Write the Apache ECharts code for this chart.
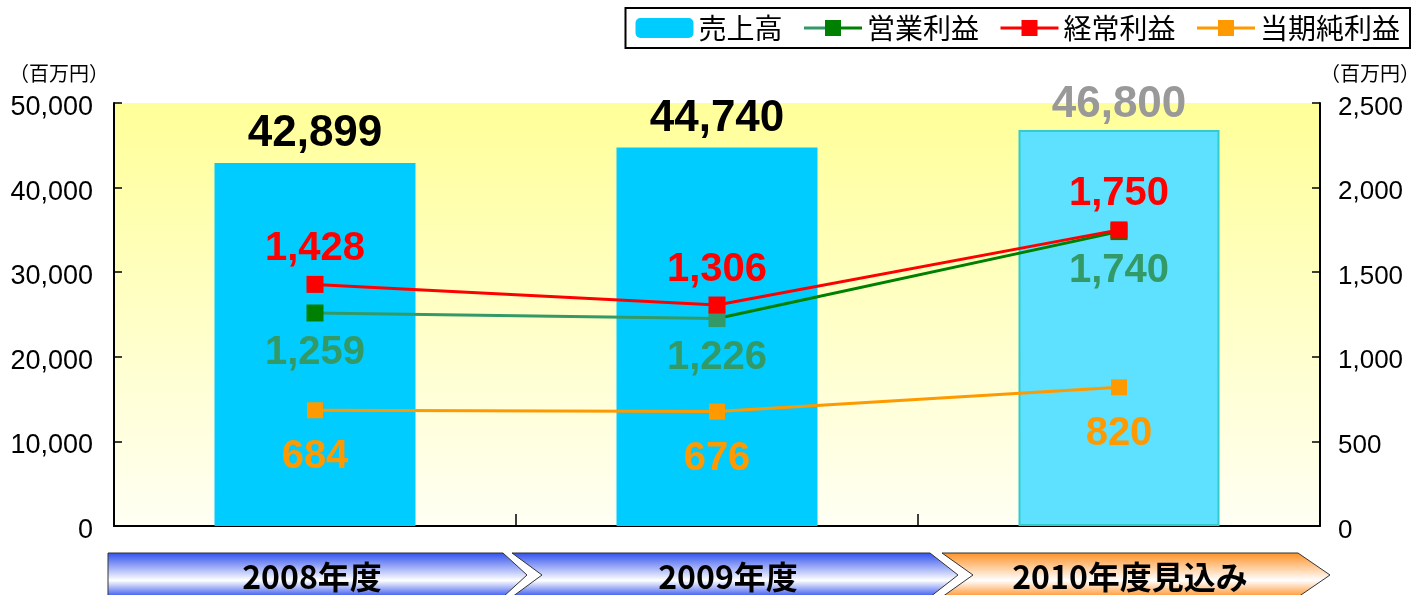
<!DOCTYPE html>
<html>
<head>
<meta charset="utf-8">
<script src="https://cdn.jsdelivr.net/npm/echarts@6/dist/echarts.min.js"></script>
<style>
  html, body { margin: 0; padding: 0; background: #fff; }
  #chart { width: 1416px; height: 595px; }
</style>
</head>
<body>
<div id="chart"></div>
<script>
// Fiscal years and results (million yen)
const categories = ['2008年度', '2009年度', '2010年度見込み'];
const sales = [42899, 44740, 46800];          // 売上高
const operatingProfit = [1259, 1226, 1740];   // 営業利益
const ordinaryProfit = [1428, 1306, 1750];    // 経常利益
const netProfit = [684, 676, 820];            // 当期純利益
const unitLabel = '（百万円）';

const NUM_FONT = "'Liberation Sans', Arial, 'Noto Sans CJK JP', sans-serif";
const JP_FONT = "'Noto Sans CJK JP', 'Liberation Sans', sans-serif";
const fmt = v => Number(v).toLocaleString('en-US');

const GREEN = '#008000';
const GREEN_SOFT = '#339966';

const chart = echarts.init(document.getElementById('chart'), null, { renderer: 'canvas' });

// value-axis tick labels sit slightly below their ticks
const tickLabel = size => ({
  color: '#000',
  fontFamily: NUM_FONT,
  fontSize: size,
  formatter: v => `{t|${fmt(v)}}`,
  rich: { t: { fontFamily: NUM_FONT, fontSize: size, color: '#000', padding: [9, 0, 0, 0] } }
});

const option = {
  animation: false,
  backgroundColor: '#ffffff',
  textStyle: { fontFamily: NUM_FONT },
  legend: {
    right: 6,
    top: 8,
    orient: 'horizontal',
    backgroundColor: '#ffffff',
    borderColor: '#000000',
    borderWidth: 2,
    padding: [6, 10, 6, 10],
    itemWidth: 58,
    itemHeight: 20,
    itemGap: 20,
    lineStyle: { width: 3 },
    textStyle: { fontFamily: JP_FONT, fontSize: 28, color: '#000000' },
    data: ['売上高', '営業利益', '経常利益', '当期純利益']
  },
  grid: {
    left: 114,
    right: 96,
    top: 103,
    bottom: 69,
    outerBoundsMode: 'none',
    containLabel: false,
    show: true,
    borderWidth: 0,
    backgroundColor: new echarts.graphic.LinearGradient(0, 0, 0, 1, [
      { offset: 0, color: '#ffff99' },
      { offset: 1, color: '#fffff4' }
    ])
  },
  xAxis: {
    type: 'category',
    data: categories,
    boundaryGap: true,
    axisLine: { show: true, lineStyle: { color: '#000', width: 2 } },
    axisTick: { show: true, inside: true, length: 12, lineStyle: { color: '#000', width: 1.5 } },
    axisLabel: {
      interval: 0,
      hideOverlap: false,
      margin: 35,
      color: '#000',
      fontSize: 32,
      fontWeight: 'bold',
      fontFamily: JP_FONT,
      formatter: (v, i) => `{c${i}|${v}}`,
      rich: {
        c0: { fontSize: 32, fontWeight: 'bold', fontFamily: JP_FONT, padding: [0, 6, 0, 0] },
        c1: { fontSize: 32, fontWeight: 'bold', fontFamily: JP_FONT, padding: [0, 0, 0, 22] },
        c2: { fontSize: 32, fontWeight: 'bold', fontFamily: JP_FONT, padding: [0, 0, 0, 22] }
      }
    },
    splitLine: { show: false }
  },
  yAxis: [
    {
      type: 'value',
      min: 0,
      max: 50000,
      interval: 10000,
      name: unitLabel,
      nameLocation: 'end',
      nameGap: 20,
      nameTextStyle: { fontFamily: JP_FONT, fontSize: 20, color: '#000', align: 'right', padding: [0, 5, 0, 0] },
      axisLine: { show: true, lineStyle: { color: '#000', width: 2 } },
      axisTick: { show: true, inside: true, length: 8, lineStyle: { color: '#000', width: 1.5 } },
      axisLabel: Object.assign({ margin: 21 }, tickLabel(27)),
      splitLine: { show: false }
    },
    {
      type: 'value',
      min: 0,
      max: 2500,
      interval: 500,
      position: 'right',
      name: unitLabel,
      nameLocation: 'end',
      nameGap: 20,
      nameTextStyle: { fontFamily: JP_FONT, fontSize: 20, color: '#000', align: 'left', padding: [0, 0, 0, 0] },
      axisLine: { show: true, lineStyle: { color: '#000', width: 2 } },
      axisTick: { show: true, inside: true, length: 8, lineStyle: { color: '#000', width: 1.5 } },
      axisLabel: Object.assign({ margin: 18 }, tickLabel(26)),
      splitLine: { show: false }
    }
  ],
  series: [
    {
      name: '売上高',
      type: 'bar',
      yAxisIndex: 0,
      barWidth: '50%',
      itemStyle: { color: '#00ccff' },
      label: {
        show: true,
        position: 'top',
        distance: 7,
        fontFamily: NUM_FONT,
        fontSize: 44,
        fontWeight: 'bold',
        color: '#000',
        formatter: p => fmt(p.value)
      },
      data: sales.map((v, i) => i === sales.length - 1
        ? { value: v,
            itemStyle: { color: '#5ee0ff', borderColor: '#33cccc', borderWidth: 2 },
            label: { color: '#999999', distance: 3 } }
        : v),
      z: 2
    },
    {
      name: '営業利益',
      type: 'line',
      yAxisIndex: 1,
      symbol: 'rect',
      symbolSize: 17,
      itemStyle: { color: GREEN },
      lineStyle: {
        width: 3,
        color: new echarts.graphic.LinearGradient(0, 0, 1, 0, [
          { offset: 0, color: GREEN_SOFT },
          { offset: 0.5, color: GREEN_SOFT },
          { offset: 0.5, color: GREEN },
          { offset: 1, color: GREEN }
        ])
      },
      label: {
        show: true,
        position: 'bottom',
        distance: 11,
        fontFamily: NUM_FONT,
        fontSize: 40,
        fontWeight: 'bold',
        color: GREEN_SOFT,
        formatter: p => fmt(p.value)
      },
      data: operatingProfit.map((v, i) => ({
        value: v,
        itemStyle: { color: i === 1 ? GREEN_SOFT : GREEN }
      })),
      z: 3
    },
    {
      name: '経常利益',
      type: 'line',
      yAxisIndex: 1,
      symbol: 'rect',
      symbolSize: 17,
      itemStyle: { color: '#ff0000' },
      lineStyle: { width: 3, color: '#ff0000' },
      label: {
        show: true,
        position: 'top',
        distance: 7,
        fontFamily: NUM_FONT,
        fontSize: 40,
        fontWeight: 'bold',
        color: '#ff0000',
        formatter: p => fmt(p.value)
      },
      data: ordinaryProfit,
      z: 4
    },
    {
      name: '当期純利益',
      type: 'line',
      yAxisIndex: 1,
      symbol: 'rect',
      symbolSize: 16,
      itemStyle: { color: '#ff9900' },
      lineStyle: { width: 3, color: '#ff9900' },
      label: {
        show: true,
        position: 'bottom',
        distance: 19,
        fontFamily: NUM_FONT,
        fontSize: 40,
        fontWeight: 'bold',
        color: '#ff9900',
        formatter: p => fmt(p.value)
      },
      data: netProfit,
      z: 3
    }
  ]
};

chart.setOption(option);

// Year banners under the axis: chevron arrows, two blue (results) and one orange (forecast)
function chevron(x0, notch, x1, tip, top, mid, bottom) {
  return [[x0, top], [x1, top], [tip, mid], [x1, bottom], [x0, bottom], [notch, mid]];
}
function bandFill(c) {
  return new echarts.graphic.LinearGradient(0, 0, 0, 1, [
    { offset: 0, color: c },
    { offset: 0.62, color: '#ffffff' },
    { offset: 1, color: c }
  ]);
}
const bTop = 553, bMid = 575, bBot = 597;
chart.setOption({
  graphic: [
    { type: 'polygon', z: -1, shape: { points: chevron(108, 108, 503, 527, bTop, bMid, bBot) },
      style: { fill: bandFill('#3050ee'), stroke: '#333', lineWidth: 1 } },
    { type: 'polygon', z: -1, shape: { points: chevron(512, 542, 930, 958, bTop, bMid, bBot) },
      style: { fill: bandFill('#3050ee'), stroke: '#333', lineWidth: 1 } },
    { type: 'polygon', z: -1, shape: { points: chevron(942, 973, 1298, 1330, bTop, bMid, bBot) },
      style: { fill: bandFill('#ff9126'), stroke: '#333', lineWidth: 1 } }
  ]
});
</script>
</body>
</html>
